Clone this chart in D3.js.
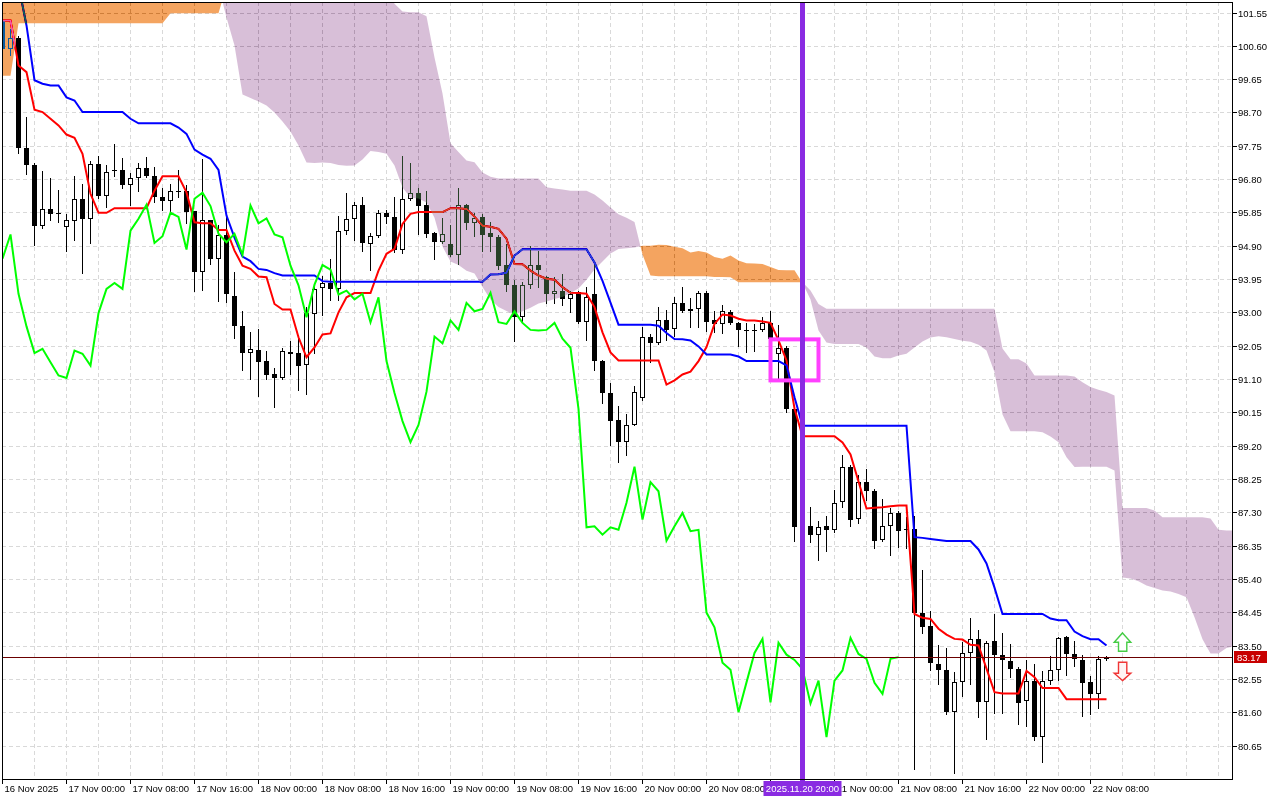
<!DOCTYPE html>
<html><head><meta charset="utf-8">
<script src="https://cdn.jsdelivr.net/npm/d3@7"></script>
<style>html,body{margin:0;padding:0;background:#fff;overflow:hidden;} svg{display:block;}</style>
</head><body>
<svg id="chart" width="1280" height="800"></svg>
<script>
// ---- DATA (H1 bars, 16 Nov 2025 16:00 .. 22 Nov 2025 10:00) ----
const open = [101.32,100.52,100.83,97.69,97.21,95.46,95.95,95.81,95.43,95.60,
96.24,95.67,97.24,96.32,97.06,97.06,96.64,96.84,97.12,96.90,
96.30,96.17,96.47,96.45,95.88,94.14,95.62,94.53,95.22,93.48,
92.60,91.85,91.93,91.61,91.23,91.13,91.88,91.84,91.50,92.96,
93.70,93.84,93.67,95.33,95.67,96.07,94.95,95.18,95.84,95.73,
94.78,96.24,96.41,96.05,95.26,95.00,94.95,94.64,96.05,95.54,
95.71,95.26,95.16,94.35,93.79,92.86,93.77,94.35,94.00,93.53,
93.62,93.39,93.58,92.72,93.51,91.61,90.71,89.92,89.30,89.79,
90.56,92.31,92.12,92.79,92.53,93.27,93.03,93.10,93.56,92.77,
92.67,93.00,92.70,92.50,92.48,92.50,92.70,91.80,91.99,90.25,
86.87,86.90,86.66,86.90,86.80,87.58,88.60,87.11,88.16,87.92,
86.51,86.90,87.28,86.83,86.83,84.43,84.05,82.98,82.81,81.60,
82.45,83.29,83.69,81.88,83.62,83.24,83.07,82.82,81.93,82.50,
80.89,82.50,82.79,83.74,83.26,83.10,82.46,82.12,83.12];
const high = [101.50,101.09,100.89,98.58,97.25,97.04,96.84,96.50,95.81,96.90,
96.67,97.33,97.47,97.19,97.79,97.41,96.97,97.25,97.42,97.14,
96.54,96.67,97.06,96.64,95.90,97.38,95.64,95.48,95.79,94.16,
93.05,92.43,92.53,91.91,91.42,91.99,92.17,92.34,93.15,93.81,
94.05,94.51,95.76,96.40,96.14,96.28,95.27,95.92,95.92,96.28,
97.47,97.26,96.55,96.45,95.28,95.68,95.50,96.55,96.10,95.83,
95.80,95.59,95.20,94.96,93.93,93.86,94.88,94.76,94.05,94.00,
94.08,93.60,93.60,93.72,94.34,91.65,91.00,90.34,90.11,90.91,
92.58,92.39,93.15,93.08,93.43,93.72,93.40,93.62,93.62,93.05,
93.22,93.07,92.72,92.70,92.66,92.86,93.05,92.65,92.03,90.30,
87.30,87.46,87.06,87.20,87.94,88.92,88.65,88.35,88.54,87.97,
87.68,87.42,87.35,87.16,87.20,85.64,84.48,83.52,83.43,82.74,
83.59,84.29,83.95,83.64,84.40,83.86,83.55,82.88,83.10,82.98,
82.76,83.19,83.74,83.76,83.64,83.22,82.64,83.19,83.20];
const low = [100.45,100.34,97.54,96.95,94.91,95.40,95.62,95.59,94.74,95.05,
94.12,94.97,96.25,96.00,96.90,96.54,96.05,96.45,96.85,96.14,
95.92,95.90,96.28,95.54,93.60,93.64,94.38,93.32,93.29,92.27,
91.36,91.11,90.61,91.11,90.30,91.10,91.25,90.79,90.68,91.84,
92.93,93.34,93.34,95.24,95.07,94.74,94.21,95.15,95.55,94.72,
94.69,96.20,95.24,95.14,94.53,94.98,94.60,94.38,95.38,95.19,
94.76,94.76,94.24,93.62,92.18,92.74,93.70,93.72,93.26,93.26,
93.22,93.00,92.70,92.20,91.37,90.42,89.23,88.73,88.94,89.78,
90.50,91.58,92.10,92.20,92.32,93.00,92.58,92.58,92.48,92.43,
92.40,92.68,92.05,91.88,91.91,92.47,92.20,91.11,90.15,86.47,
85.85,86.45,85.94,86.20,86.73,87.46,86.92,86.99,87.64,86.28,
86.49,86.07,86.32,86.28,79.99,83.86,82.81,82.41,81.55,79.86,
82.07,82.39,81.46,80.84,81.57,81.58,82.60,81.27,81.22,80.81,
80.17,82.39,82.52,82.67,82.93,81.50,81.56,81.71,83.08];
const close = [100.52,100.83,97.69,97.21,95.46,95.95,95.81,95.83,95.62,96.24,
95.67,97.24,96.31,97.00,97.02,96.64,96.84,97.12,96.88,96.28,
96.17,96.45,96.42,95.86,94.14,95.62,94.53,95.22,93.53,92.60,
91.84,91.96,91.58,91.20,91.13,91.91,91.82,91.48,92.98,93.67,
93.84,93.67,95.33,95.67,96.07,94.98,95.17,95.84,95.72,94.79,
96.24,96.41,96.03,95.24,95.00,95.24,94.64,96.05,95.54,95.68,
95.22,95.14,94.33,93.77,92.86,93.79,94.35,94.22,93.51,93.62,
93.37,93.53,92.72,93.43,91.61,90.70,89.90,89.30,89.79,90.74,
92.31,92.12,92.77,92.50,93.27,93.03,93.10,93.56,92.72,92.67,
93.03,92.70,92.50,92.48,92.50,92.70,92.25,91.99,90.25,86.87,
86.90,86.66,86.87,86.80,87.57,88.60,87.09,88.16,87.90,86.49,
86.90,87.28,86.76,86.80,84.44,84.02,83.01,82.81,81.60,82.45,
83.29,83.69,81.88,83.58,83.24,83.09,82.83,81.85,82.50,80.89,
82.50,82.79,83.72,83.26,83.12,82.44,82.12,83.12,83.17];

// Ichimoku lines
const tenkan = [101.32,101.32,100.04,99.85,98.78,98.71,98.52,98.33,98.07,97.98,
97.52,96.38,95.84,95.84,95.97,95.97,95.97,95.97,95.97,96.47,
96.88,96.88,96.88,96.42,95.57,95.54,95.54,95.35,95.35,94.76,
94.33,94.24,94.02,94.00,93.24,93.08,93.08,92.29,91.72,92.00,
92.37,92.40,93.00,93.43,93.55,93.55,93.55,94.19,94.67,94.81,
95.52,95.81,95.86,95.86,95.86,95.86,95.97,95.97,95.95,95.73,
95.47,95.44,95.38,95.10,94.38,94.37,94.19,94.05,93.96,93.93,
93.72,93.56,93.55,93.53,93.15,92.43,91.86,91.63,91.63,91.63,
91.63,91.63,91.63,90.94,91.06,91.23,91.31,91.61,92.01,92.67,
92.94,92.91,92.82,92.77,92.77,92.74,92.70,92.20,91.63,90.26,
89.47,89.47,89.47,89.47,89.47,89.29,88.95,88.18,87.41,87.43,
87.44,87.47,87.49,87.49,84.40,84.29,84.26,83.98,83.81,83.69,
83.67,83.52,83.50,82.84,82.17,82.13,82.13,82.13,82.78,82.60,
82.29,82.29,82.29,81.97,81.97,81.97,81.97,81.97,81.97];
const kijun = [102.60,102.60,102.33,101.18,99.62,99.52,99.47,99.47,99.13,99.04,
98.71,98.71,98.71,98.71,98.71,98.71,98.52,98.39,98.39,98.39,
98.39,98.39,98.27,98.09,97.64,97.50,97.38,97.06,95.76,95.13,
94.59,94.46,94.24,94.21,94.12,94.05,94.05,94.05,94.05,94.05,
93.89,93.87,93.87,93.87,93.87,93.87,93.87,93.87,93.87,93.87,
93.87,93.87,93.87,93.87,93.87,93.87,93.87,93.87,93.87,93.87,
93.87,94.08,94.09,94.13,94.62,94.80,94.80,94.80,94.80,94.80,
94.80,94.80,94.80,94.80,94.42,93.90,93.28,92.65,92.65,92.65,
92.65,92.65,92.62,92.41,92.24,92.23,92.20,92.03,91.80,91.80,
91.80,91.80,91.74,91.61,91.61,91.61,91.61,91.61,91.49,90.58,
89.77,89.77,89.77,89.77,89.77,89.77,89.77,89.77,89.77,89.77,
89.77,89.77,89.77,89.77,86.59,86.57,86.54,86.51,86.48,86.48,
86.48,86.48,86.24,85.84,85.15,84.40,84.40,84.40,84.40,84.40,
84.40,84.27,84.22,84.22,83.90,83.77,83.68,83.68,83.50];
const chikou = [94.53,95.22,93.53,92.60,91.84,91.96,91.58,91.20,91.13,91.91,
91.82,91.48,92.98,93.67,93.84,93.67,95.33,95.67,96.07,94.98,
95.17,95.84,95.72,94.79,96.24,96.41,96.03,95.24,95.00,95.24,
94.64,96.05,95.54,95.68,95.22,95.14,94.33,93.77,92.86,93.79,
94.35,94.22,93.51,93.62,93.37,93.53,92.72,93.43,91.61,90.70,
89.90,89.30,89.79,90.74,92.31,92.12,92.77,92.50,93.27,93.03,
93.10,93.56,92.72,92.67,93.03,92.70,92.50,92.48,92.50,92.70,
92.25,91.99,90.25,86.87,86.90,86.66,86.87,86.80,87.57,88.60,
87.09,88.16,87.90,86.49,86.90,87.28,86.76,86.80,84.44,84.02,
83.01,82.81,81.60,82.45,83.29,83.69,81.88,83.58,83.24,83.09,
82.83,81.85,82.50,80.89,82.50,82.79,83.72,83.26,83.12,82.44,
82.12,83.12,83.17];
const spanA = [102.3,102.3,102.3,102.3,102.3,102.3,102.3,102.3,102.3,102.3,
102.3,102.3,102.3,102.3,102.3,102.3,102.3,102.3,102.3,102.3,
102.3,102.3,102.3,102.3,102.3,102.3,102.3,102.3,101.41,100.61,
99.21,99.11,99.01,98.90,98.70,98.44,98.16,97.76,97.27,97.26,
97.27,97.26,97.20,97.18,97.19,97.36,97.60,97.57,97.52,97.19,
96.56,96.27,96.25,96.13,95.70,94.88,94.45,94.35,94.19,94.11,
93.72,93.37,93.15,93.04,92.93,93.03,93.13,93.25,93.31,93.38,
93.44,93.55,93.68,93.93,94.22,94.45,94.68,94.81,94.83,94.85,
94.90,94.90,94.93,94.92,94.87,94.83,94.71,94.75,94.71,94.58,
94.53,94.62,94.48,94.40,94.39,94.38,94.29,94.21,94.20,94.20,
93.84,93.37,92.48,92.14,92.10,92.10,92.10,92.10,92.00,91.74,
91.69,91.69,91.77,91.82,92.00,92.17,92.28,92.32,92.29,92.24,
92.19,92.16,92.08,91.91,91.29,90.09,89.61,89.61,89.61,89.61,
89.58,89.46,89.30,88.87,88.59,88.60,88.60,88.60,88.60,88.49,
85.44,85.41,85.33,85.21,85.14,85.07,85.04,84.97,84.88,84.31,
83.68,83.27,83.27,83.43,83.48];
const spanB = [99.75,99.75,101.24,101.24,101.24,101.24,101.24,101.24,101.24,101.24,
101.24,101.24,101.24,101.24,101.24,101.24,101.24,101.24,101.24,101.24,
101.24,101.53,101.53,101.53,101.53,101.53,101.53,101.53,102.3,102.3,
102.3,102.3,102.3,102.3,102.3,102.3,102.3,102.3,102.3,102.3,
102.3,102.3,102.3,102.3,102.3,102.3,102.3,102.3,102.3,101.80,
101.58,101.56,101.56,101.44,100.27,99.24,97.82,97.57,97.33,97.28,
96.99,96.87,96.82,96.82,96.82,96.82,96.82,96.82,96.57,96.53,
96.50,96.47,96.47,96.47,96.36,96.19,95.99,95.80,95.70,95.58,
94.65,94.05,94.03,94.03,94.03,94.03,94.03,94.03,94.03,94.01,
94.01,94.00,93.86,93.86,93.86,93.86,93.86,93.86,93.86,93.86,
93.86,93.62,93.24,93.10,93.10,93.10,93.10,93.10,93.10,93.10,
93.10,93.10,93.10,93.10,93.10,93.10,93.10,93.10,93.10,93.10,
93.10,93.10,93.10,93.10,93.10,91.97,91.66,91.66,91.54,91.20,
91.20,91.20,91.20,91.20,91.17,91.01,90.87,90.79,90.73,90.63,
87.42,87.42,87.42,87.42,87.35,87.16,87.16,87.16,87.16,87.16,
87.16,87.12,86.80,86.78,86.78];

const yTicks = [101.55,100.60,99.65,98.70,97.75,96.80,95.85,94.90,93.95,93.00,92.05,91.10,90.15,89.20,88.25,87.30,86.35,85.40,84.45,83.50,82.55,81.60,80.65];
const xTickBars = [0,8,16,24,32,40,48,56,64,72,80,88,96,104,112,120,128,136];
const xTickLabels = ["16 Nov 2025","17 Nov 00:00","17 Nov 08:00","17 Nov 16:00","18 Nov 00:00","18 Nov 08:00","18 Nov 16:00","19 Nov 00:00","19 Nov 08:00","19 Nov 16:00","20 Nov 00:00","20 Nov 08:00","20 Nov 16:00","21 Nov 00:00","21 Nov 08:00","21 Nov 16:00","22 Nov 00:00","22 Nov 08:00"];
const bidPrice = 83.17;
const vlineBar = 100, vlineLabel = "2025.11.20 20:00";
const boxBars = [96, 102], boxPrices = [92.23, 91.06];
const arrowBar = 140, arrowUpPrice = 83.86, arrowDownPrice = 82.50;

// ---- LAYOUT ----
const L = 2, T = 2, R = 1232, B = 779;
const svg = d3.select("#chart");
const x = d3.scaleLinear().domain([0, 1]).range([2.5, 10.5]);
const y = d3.scaleLinear().domain([80.65, 101.55]).range([745.5, 12.5]);
const FONT = "'Liberation Sans', Arial, sans-serif";

svg.append("rect").attr("width", 1280).attr("height", 800).attr("fill", "#fff");
svg.append("clipPath").attr("id", "plot").append("rect")
  .attr("x", L + 1).attr("y", T + 1).attr("width", R - L - 1).attr("height", B - T - 1);

// grid
const grid = svg.append("g").attr("clip-path", "url(#plot)").attr("shape-rendering", "crispEdges");
grid.selectAll("line.h").data(yTicks).join("line")
  .attr("x1", L).attr("x2", R).attr("y1", d => Math.round(y(d))).attr("y2", d => Math.round(y(d)))
  .attr("stroke", "#d9d9d9").attr("stroke-dasharray", "4,3");
const vGrid = d3.range(4, 156, 4);
grid.selectAll("line.v").data(vGrid).join("line")
  .attr("x1", d => x(d)).attr("x2", d => x(d)).attr("y1", T).attr("y2", B)
  .attr("stroke", "#d9d9d9").attr("stroke-dasharray", "4,3");

// candles
const cg = svg.append("g").attr("clip-path", "url(#plot)").attr("shape-rendering", "crispEdges");
open.forEach((o, i) => {
  const c = close[i], xc = x(i);
  const yh = Math.round(y(high[i])), yl = Math.round(y(low[i]));
  cg.append("line").attr("x1", xc).attr("x2", xc).attr("y1", yh).attr("y2", yl + 1)
    .attr("stroke", "#000").attr("stroke-width", 1);
  const top = Math.round(y(Math.max(o, c))), bot = Math.round(y(Math.min(o, c)));
  if (bot - top < 2) {
    cg.append("rect").attr("x", xc - 2.5).attr("y", top).attr("width", 5).attr("height", Math.max(1, bot - top)).attr("fill", "#000");
  } else if (c >= o) {
    cg.append("rect").attr("x", xc - 2).attr("y", top + 0.5).attr("width", 4).attr("height", bot - top - 1)
      .attr("fill", "#fff").attr("stroke", "#000").attr("stroke-width", 1);
  } else {
    cg.append("rect").attr("x", xc - 2.5).attr("y", top).attr("width", 5).attr("height", bot - top).attr("fill", "#000");
  }
});

// tenkan / kijun
const line = d3.line().x((d, i) => x(i)).y(d => y(d));
const lg = svg.append("g").attr("clip-path", "url(#plot)").attr("fill", "none").attr("stroke-width", 2);
lg.append("path").attr("d", line(tenkan)).attr("stroke", "#ff0000");
lg.append("path").attr("d", line(kijun)).attr("stroke", "#0000ff");

// cloud (MT5 draws the filling inverted: difference blend reproduces it)
function regions(a, b) {
  const out = []; let cur = null;
  for (let i = 0; i < a.length; i++) {
    const s = a[i] >= b[i];
    if (!cur) cur = { s, top: [], bot: [] };
    else if (s !== cur.s) {
      const d0 = a[i - 1] - b[i - 1], d1 = a[i] - b[i];
      const t = d0 / (d0 - d1);
      const xi = i - 1 + t, yi = a[i - 1] + t * (a[i] - a[i - 1]);
      cur.top.push([xi, yi]); cur.bot.push([xi, yi]); out.push(cur);
      cur = { s, top: [[xi, yi]], bot: [[xi, yi]] };
    }
    cur.top.push([i, Math.max(a[i], b[i])]);
    cur.bot.push([i, Math.min(a[i], b[i])]);
  }
  out.push(cur); return out;
}
const cloud = svg.append("g").attr("clip-path", "url(#plot)").style("mix-blend-mode", "difference");
regions(spanA, spanB).forEach(r => {
  const pts = r.top.concat(r.bot.slice().reverse()).map(p => [x(p[0]), y(p[1])]);
  cloud.append("path").attr("d", "M" + pts.map(p => p.join(",")).join("L") + "Z")
    .attr("fill", r.s ? "#0b5b9f" : "#274027");
});

// chikou
svg.append("g").attr("clip-path", "url(#plot)").append("path").attr("d", line(chikou))
  .attr("fill", "none").attr("stroke", "#00ff00").attr("stroke-width", 2);

// bid line
svg.append("line").attr("x1", L).attr("x2", R).attr("y1", Math.round(y(bidPrice)) + 0.5).attr("y2", Math.round(y(bidPrice)) + 0.5)
  .attr("stroke", "#6b0000").attr("stroke-width", 1).attr("shape-rendering", "crispEdges");

// objects
const og = svg.append("g").attr("clip-path", "url(#plot)");
og.append("rect").attr("x", x(boxBars[0])).attr("y", y(boxPrices[0]))
  .attr("width", x(boxBars[1]) - x(boxBars[0])).attr("height", y(boxPrices[1]) - y(boxPrices[0]))
  .attr("fill", "none").attr("stroke", "#ff40ff").attr("stroke-width", 4);
svg.append("line").attr("x1", x(vlineBar)).attr("x2", x(vlineBar)).attr("y1", T).attr("y2", B + 3)
  .attr("stroke", "#8a2be2").attr("stroke-width", 5).attr("shape-rendering", "crispEdges");

const ax = x(arrowBar);
const upT = y(arrowUpPrice);
const upPts = [[0,0],[8.3,9.4],[4.3,9.4],[4.3,18.4],[-4,18.4],[-4,9.4],[-8.3,9.4]].map(p => [ax + p[0], upT + p[1]]);
svg.append("polygon").attr("points", upPts.map(p => p.join(",")).join(" "))
  .attr("fill", "#fff").attr("stroke", "#45cc45").attr("stroke-width", 1.4);
const dnT = y(arrowDownPrice);
const dnPts = [[0,0],[8.3,-7.3],[4.3,-7.3],[4.3,-18.3],[-4,-18.3],[-4,-7.3],[-8.3,-7.3]].map(p => [ax + p[0], dnT + p[1]]);
svg.append("polygon").attr("points", dnPts.map(p => p.join(",")).join(" "))
  .attr("fill", "#fff3f3").attr("stroke", "#f03535").attr("stroke-width", 1.4);

// frame
svg.append("rect").attr("x", L + 0.5).attr("y", T + 0.5).attr("width", R - L).attr("height", B - T)
  .attr("fill", "none").attr("stroke", "#000").attr("shape-rendering", "crispEdges");

// right axis
const ya = svg.append("g").attr("shape-rendering", "crispEdges");
yTicks.forEach(v => {
  const yy = Math.round(y(v));
  ya.append("line").attr("x1", R).attr("x2", R + 5).attr("y1", yy + 0.5).attr("y2", yy + 0.5).attr("stroke", "#000");
  ya.append("text").attr("x", R + 6).attr("y", yy + 3.5).text(v.toFixed(2))
    .attr("font-family", FONT).attr("font-size", 9.5).attr("fill", "#000");
});
// bid label
const by = Math.round(y(bidPrice));
svg.append("rect").attr("x", R + 2).attr("y", by - 6).attr("width", 33).attr("height", 12).attr("fill", "#c80000");
svg.append("text").attr("x", R + 5).attr("y", by + 3.5).text(bidPrice.toFixed(2))
  .attr("font-family", FONT).attr("font-size", 9.5).attr("fill", "#fff");

// bottom axis (the label fully covered by the vertical-line tag is not shown, as in the original)
const vx = x(vlineBar);
const tagL = vx - 39, tagR = vx + 39;
const xa = svg.append("g").attr("shape-rendering", "crispEdges");
xTickBars.forEach((b, k) => {
  const xx = x(b);
  xa.append("line").attr("x1", xx).attr("x2", xx).attr("y1", B).attr("y2", B + 5).attr("stroke", "#000");
  const covered = xx + 2 >= tagL && xx + 60 <= tagR;
  if (!covered) {
    xa.append("text").attr("x", xx + 2).attr("y", B + 13).text(xTickLabels[k])
      .attr("font-family", FONT).attr("font-size", 9.5).attr("fill", "#000");
  }
});
// vline label
svg.append("rect").attr("x", tagL).attr("y", B + 2).attr("width", tagR - tagL).attr("height", 15).attr("fill", "#8a2be2");
svg.append("text").attr("x", vx).attr("y", B + 13).attr("text-anchor", "middle").text(vlineLabel)
  .attr("font-family", FONT).attr("font-size", 9.5).attr("fill", "#fff");
</script>
</body></html>
